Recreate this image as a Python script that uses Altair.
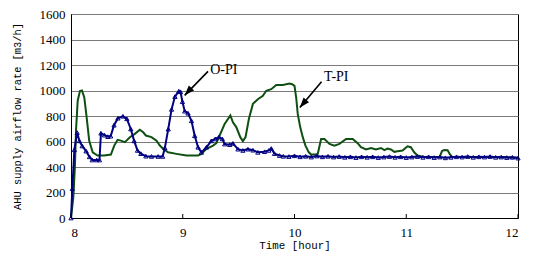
import altair as alt
import pandas as pd

# O-PI series (hour, m3/h)
opi_t = [8.000, 8.012, 8.030, 8.055, 8.075, 8.100, 8.135, 8.165, 8.190, 8.230, 8.255,
         8.268, 8.300, 8.330, 8.355, 8.385, 8.420, 8.465, 8.500, 8.535, 8.565, 8.595,
         8.625, 8.670, 8.720, 8.780, 8.820, 8.840, 8.870, 8.900, 8.930, 8.965, 8.980,
         8.997, 9.018, 9.047, 9.078, 9.107, 9.137, 9.167, 9.212, 9.256, 9.290, 9.324,
         9.354, 9.375, 9.420, 9.449, 9.494, 9.538, 9.583, 9.628, 9.672, 9.732, 9.770,
         9.792, 9.821, 9.866,
         9.90, 9.95, 10.00, 10.05, 10.10, 10.15, 10.20, 10.25, 10.30, 10.35, 10.40,
         10.45, 10.50, 10.55, 10.60, 10.65, 10.70, 10.75, 10.80, 10.85, 10.90, 10.95,
         11.00, 11.05, 11.10, 11.15, 11.20, 11.25, 11.30, 11.35, 11.40, 11.45, 11.50,
         11.55, 11.60, 11.65, 11.70, 11.75, 11.80, 11.85, 11.90, 11.95, 12.00]
opi_v = [0, 230, 535, 670, 605, 565, 525, 480, 455, 455, 455,
         665, 650, 638, 642, 728, 783, 798, 778, 698, 605, 530,
         505, 485, 483, 483, 483, 550, 697, 852, 952, 995, 990,
         912, 838, 822, 762, 645, 555, 515, 555, 605, 620, 635,
         620, 580, 575, 585, 540, 530, 540, 532, 515, 520, 530,
         545, 505, 490,
         484, 482, 488, 480, 484, 478, 486, 480, 484, 478, 482,
         476, 480, 474, 480, 476, 480, 474, 478, 482, 476, 480,
         474, 478, 482, 476, 480, 474, 478, 472, 476, 480, 478,
         482, 476, 480, 478, 482, 476, 478, 474, 476, 470]

# T-PI series (hour, m3/h)
tpi_t = [8.000, 8.021, 8.035, 8.045, 8.060, 8.080, 8.098, 8.119, 8.140, 8.163, 8.194,
         8.238, 8.297, 8.357, 8.387, 8.417, 8.446, 8.482, 8.527, 8.571, 8.616, 8.646,
         8.670, 8.720, 8.765, 8.795, 8.824, 8.869, 8.944, 9.033, 9.137, 9.167, 9.212,
         9.271, 9.301, 9.330, 9.375, 9.426, 9.449, 9.479, 9.515, 9.538, 9.562, 9.592,
         9.628, 9.672, 9.717, 9.747, 9.792, 9.837, 9.896, 9.955, 9.979, 10.000, 10.015,
         10.029, 10.051, 10.074, 10.098, 10.128, 10.149, 10.188, 10.208, 10.238, 10.268,
         10.313, 10.357, 10.402, 10.462, 10.521, 10.565, 10.595, 10.640, 10.685, 10.729,
         10.774, 10.804, 10.833, 10.863, 10.893, 10.922, 10.967, 11.011, 11.041, 11.071,
         11.101, 11.15, 11.20, 11.25, 11.30, 11.32, 11.34, 11.37, 11.39, 11.41, 11.50,
         11.60, 11.70, 11.80, 11.90, 12.00]
tpi_v = [0, 165, 405, 690, 920, 995, 1000, 945, 790, 605, 515,
         490, 490, 498, 568, 613, 607, 595, 634, 660, 692, 672,
         647, 634, 607, 568, 543, 515, 503, 490, 490, 503, 543,
         568, 587, 647, 738, 804, 751, 713, 634, 603, 634, 778,
         895, 932, 958, 998, 1010, 1044, 1044, 1054, 1049, 1036, 945,
         816, 713, 634, 568, 515, 498, 498, 503, 620, 620,
         581, 568, 581, 620, 620, 587, 555, 537, 549, 537,
         549, 532, 545, 537, 519, 524, 529, 562, 555, 515,
         490, 480, 478, 478, 480, 525, 534, 532, 500, 480, 478,
         478, 478, 478, 476, 472]

x_ticks = [8, 9, 10, 11, 12]
y_ticks = [0, 200, 400, 600, 800, 1000, 1200, 1400, 1600]

# annotations (data coordinates)
ann_label = ["O-PI", "T-PI"]
ann_text_x = [9.245, 10.265]
ann_text_y = [1160, 1105]
ann_tail_x = [9.226, 10.242]
ann_tail_y = [1150, 1068]
ann_head_x = [9.017, 10.048]
ann_head_y = [962, 866]
ann_angle = [223, 220]

BLUE = "#000080"
GREEN = "#0f4f12"

opi_df = pd.DataFrame({"t": opi_t, "v": opi_v})
tpi_df = pd.DataFrame({"t": tpi_t, "v": tpi_v})
tick_df = pd.DataFrame({"t": x_ticks})
ann_df = pd.DataFrame({
    "label": ann_label, "tx": ann_text_x, "ty": ann_text_y,
    "x1": ann_tail_x, "y1": ann_tail_y, "x2": ann_head_x, "y2": ann_head_y,
    "ang": ann_angle,
})

PH = 204  # plot height

x_scale = alt.Scale(domain=[8, 12], nice=False, zero=False)
y_scale = alt.Scale(domain=[0, 1600], nice=False)

x_axis = alt.Axis(values=x_ticks, title="Time [hour]", grid=False, ticks=False,
                  labelPadding=8, labelFont="Liberation Serif", labelFontSize=13,
                  labelColor="black", titleFont="Liberation Mono", titleFontSize=10.8,
                  titleFontWeight="normal", titleColor="black", titleY=27.5,
                  titleBaseline="middle", domainColor="black", format="d")
y_axis = alt.Axis(values=y_ticks, title="AHU supply airflow rate [m3/h]", grid=True,
                  gridColor="#7a7a7a", gridWidth=1, ticks=False, labelPadding=6,
                  labelFont="Liberation Serif", labelFontSize=13, labelColor="black",
                  titleFont="Liberation Mono", titleFontSize=10.4, titleFontWeight="normal",
                  titleColor="black", titleX=-53.5, titleBaseline="middle",
                  titleAlign="center", domainColor="black", format="d")


def X(field):
    return alt.X(field, type="quantitative", scale=x_scale, axis=x_axis, title="Time [hour]")


def Y(field):
    return alt.Y(field, type="quantitative", scale=y_scale, axis=y_axis,
                 title="AHU supply airflow rate [m3/h]")


green = alt.Chart(tpi_df).mark_line(color=GREEN, strokeWidth=2).encode(x=X("t"), y=Y("v"))
blue = alt.Chart(opi_df).mark_line(
    color=BLUE, strokeWidth=2,
    point=alt.OverlayMarkDef(shape="triangle-up", filled=False, size=18,
                             strokeWidth=1, color=BLUE),
).encode(x=X("t"), y=Y("v"))

ticks = alt.Chart(tick_df).mark_rule(color="black", strokeWidth=1).encode(
    x=X("t"), y=alt.value(PH), y2=alt.value(PH - 4))

shafts = alt.Chart(ann_df).mark_rule(color="black", strokeWidth=1.6).encode(
    x=X("x1"), y=Y("y1"), x2="x2:Q", y2="y2:Q")
heads = alt.Chart(ann_df).mark_point(
    shape="M0,0L-0.36,1L0.36,1Z", filled=True, size=400, color="black", opacity=1
).encode(x=X("x2"), y=Y("y2"), angle=alt.Angle("ang:Q", scale=None))
labels = alt.Chart(ann_df).mark_text(
    align="left", baseline="middle", font="Liberation Serif", fontSize=14, color="black"
).encode(x=X("tx"), y=Y("ty"), text="label:N")

chart = alt.layer(green, blue, ticks, shafts, heads, labels).properties(
    width=447, height=PH,
    autosize=alt.AutoSizeParams(type="none"),
    padding={"left": 63, "top": 6, "right": 11, "bottom": 34},
    background="white",
).configure_view(stroke="black", strokeWidth=1)

chart.save("out.html", embed_options={"renderer": "svg", "actions": False})
